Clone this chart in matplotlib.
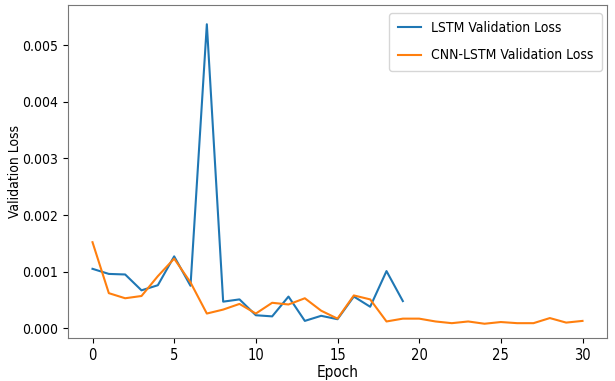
import matplotlib
matplotlib.use("Agg")
import matplotlib.pyplot as plt

plt.rcParams['font.family'] = ['DejaVu Sans']
plt.rcParams['font.stretch'] = 'condensed'

epochs_lstm = list(range(20))
lstm_loss = [0.00105, 0.00096, 0.00095, 0.00067, 0.00076, 0.00127, 0.00075, 0.00537,
             0.00047, 0.00051, 0.00023, 0.00021, 0.00056, 0.00013, 0.00022, 0.00016,
             0.00056, 0.00038, 0.00101, 0.00048]
epochs_cnn = list(range(31))
cnn_loss = [0.00152, 0.00062, 0.00053, 0.00057, 0.00092, 0.00123, 0.00081, 0.00026,
            0.00033, 0.00043, 0.00026, 0.00045, 0.00042, 0.00053, 0.00031, 0.00017,
            0.00058, 0.00051, 0.00012, 0.00017, 0.00017, 0.00012, 0.00009, 0.00012,
            0.00008, 0.00011, 0.00009, 0.00009, 0.00018, 0.00010, 0.00013]

fig = plt.figure(figsize=(6.15, 3.81), dpi=100)
ax = fig.add_axes([68/615, 1-338/381, (607-68)/615, (338-5)/381])
ax.plot(epochs_lstm, lstm_loss, color='#1f77b4', lw=1.5, label='LSTM Validation Loss')
ax.plot(epochs_cnn, cnn_loss, color='#ff7f0e', lw=1.5, label='CNN-LSTM Validation Loss')
ax.set_xlabel('Epoch', fontsize=11, labelpad=2)
ax.set_ylabel('Validation Loss', fontsize=10)
ax.yaxis.set_label_coords(-0.086, 0.5)
ax.set_xticks([0, 5, 10, 15, 20, 25, 30])
ax.set_yticks([0, 0.001, 0.002, 0.003, 0.004, 0.005])
ax.set_yticklabels(['0.000', '0.001', '0.002', '0.003', '0.004', '0.005'])
ax.tick_params(axis='x', labelsize=10.5)
ax.tick_params(axis='y', labelsize=10)
ax.set_xlim(-1.5, 31.5)
ax.set_ylim(-0.000172, 0.00571)
ax.legend(loc='upper right', fontsize=10, labelspacing=0.95, handlelength=1.7,
          borderpad=0.6, handletextpad=0.7, bbox_to_anchor=(1.003, 0.997))
for s in ax.spines.values():
    s.set_color('#777777')
fig.savefig('out.png', dpi=100)
